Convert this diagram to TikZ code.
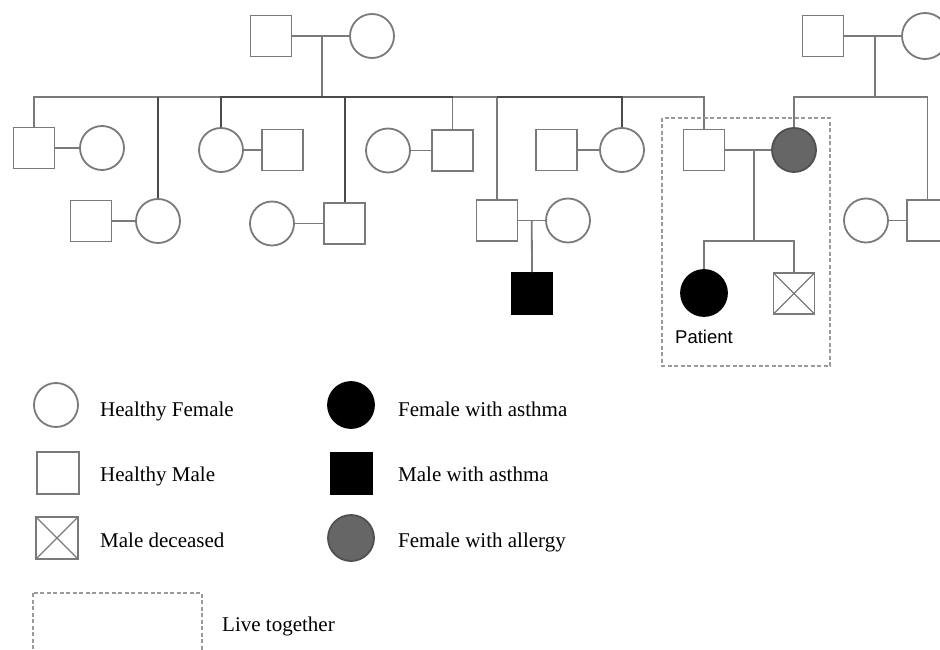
\documentclass[tikz,border=0pt]{standalone}
\usepackage{fontspec}
\setmainfont{Liberation Serif}
\newfontfamily\labelsans{Liberation Sans}
\usetikzlibrary{calc}

\definecolor{lgray}{HTML}{7A7A7A}
\definecolor{dgray}{HTML}{4A4A4A}
\definecolor{agray}{HTML}{666666}
\definecolor{agrayd}{HTML}{505050}
\definecolor{boxgray}{HTML}{9A9A9A}

\tikzset{
  line/.style={draw=lgray, line width=1.8pt},
  dline/.style={draw=dgray, line width=2pt},
  male/.style={rectangle, draw=lgray, line width=1.8pt, minimum size=41pt, inner sep=0pt},
  female/.style={circle, draw=lgray, line width=1.8pt, minimum size=44pt, inner sep=0pt},
  asthma/.style={fill=black, draw=black},
  allergy/.style={fill=agray, draw=agrayd},
  deceased/.style={male, path picture={
      \draw[lgray, line width=1.4pt]
        (path picture bounding box.south west) -- (path picture bounding box.north east)
        (path picture bounding box.north west) -- (path picture bounding box.south east);}},
  livebox/.style={draw=boxgray, line width=1.6pt, dash pattern=on 4pt off 2.5pt},
  legtext/.style={anchor=base west, inner sep=0pt, font=\fontsize{21}{25}\selectfont},
}

\begin{document}
\begin{tikzpicture}[x=1pt,y=-1pt]
\clip (0,0) rectangle (940,650);
\fill[white] (0,0) rectangle (940,650);

% ---------- generation I ----------
\node[male]   (gL1) at (271,36) {};
\node[female] (gL2) at (372,36) {};
\node[male]   (gR1) at (823,36) {};
\node[female, minimum size=46pt] (gR2) at (925,36) {};

% ---------- generation II ----------
\node[male]   (a1)  at (34,148) {};
\node[female] (a1s) at (102,148) {};
\node[female] (a2)  at (158,221) {};
\node[male]   (a2s) at (91,221) {};
\node[female] (a3)  at (221,150) {};
\node[male]   (a3s) at (282.5,150) {};
\node[male]   (a4)  at (344.5,223.5) {};
\node[female] (a4s) at (272,223.5) {};
\node[male]   (a5)  at (452.5,150.5) {};
\node[female] (a5s) at (388,150.5) {};
\node[male]   (a6)  at (497,220.5) {};
\node[female] (a6s) at (568,220.5) {};
\node[female] (a7)  at (622,150) {};
\node[male]   (a7s) at (556.5,150) {};
\node[male]   (a8)  at (704,150) {};
\node[female, allergy] (b1) at (794,150) {};
\node[male]   (b2)  at (927.5,220.5) {};
\node[female] (b2s) at (866,220.5) {};

% ---------- generation III ----------
\node[male, asthma] (c1) at (532,293.5) {};
\node[female, asthma, minimum size=46pt] (pat) at (704,293) {};
\node[deceased] (dec) at (794,293.5) {};
\node[anchor=base, inner sep=0pt, font=\labelsans\fontsize{18.5}{22}\selectfont] (patlbl) at (704,343) {Patient};

% ---------- couples ----------
\foreach \p/\q in {gL1/gL2, gR1/gR2, a1/a1s, a2s/a2, a3/a3s, a4s/a4, a5s/a5, a6/a6s, a7s/a7, a8/b1, b2s/b2}
  \draw[line] (\p.east) -- (\q.west);

% ---------- left sibship ----------
\coordinate (dL) at (322,36);
\coordinate (sibL) at (322,97);
\draw[line] (dL) -- (sibL);
\draw[line] (a1.north) -- (a1.north |- sibL) -- (a8.north |- sibL) -- (a8.north);
\draw[line] (a5.north |- sibL) -- (a5.north);
\draw[line] (a6.north |- sibL) -- (a6.north);
\draw[dline] (a2.north |- sibL) -- (a2.north);
\draw[dline] (a3.north) -- (a3.north |- sibL) -- (a5.north |- sibL);
\draw[dline] (a4.north |- sibL) -- (a4.north);
\draw[dline] (a6.north |- sibL) -- (a7.north |- sibL) -- (a7.north);

% ---------- right sibship ----------
\coordinate (dR) at (875,36);
\coordinate (sibR) at (875,97);
\draw[line] (dR) -- (sibR);
\draw[line] (b1.north) -- (b1.north |- sibR) -- (b2.north |- sibR) -- (b2.north);

% ---------- children ----------
\coordinate (m6) at ($(a6.east)!0.5!(a6s.west)$);
\draw[line] (m6) -- (c1.north);
\coordinate (m8) at (754,150);
\coordinate (kids) at (754,241);
\draw[line] (m8) -- (kids);
\draw[line] (pat.north) -- (pat.north |- kids) -- (dec.north |- kids) -- (dec.north);

% household
\draw[livebox] (662,118) rectangle (830,366);

% ---------- legend ----------
\node[female] (lf)  at (56,405) {};
\node[legtext] (lft) at (100,416) {Healthy Female};
\node[male, minimum size=42pt] (lm) at (58,473) {};
\node[legtext] (lmt) at (100,481) {Healthy Male};
\node[deceased, minimum size=42pt] (ld) at (57,538) {};
\node[legtext] (ldt) at (100,547) {Male deceased};
\node[female, asthma, minimum size=46pt] (lfa) at (351,405) {};
\node[legtext] (lfat) at (398,416) {Female with asthma};
\node[male, asthma, minimum size=42pt] (lma) at (351.5,473.5) {};
\node[legtext] (lmat) at (398,481) {Male with asthma};
\node[female, allergy, minimum size=46pt] (lal) at (351,538) {};
\node[legtext] (lalt) at (398,547) {Female with allergy};
\draw[livebox] (33,593) rectangle (202,670);
\node[legtext] (llt) at (222,631) {Live together};
\end{tikzpicture}
\end{document}
